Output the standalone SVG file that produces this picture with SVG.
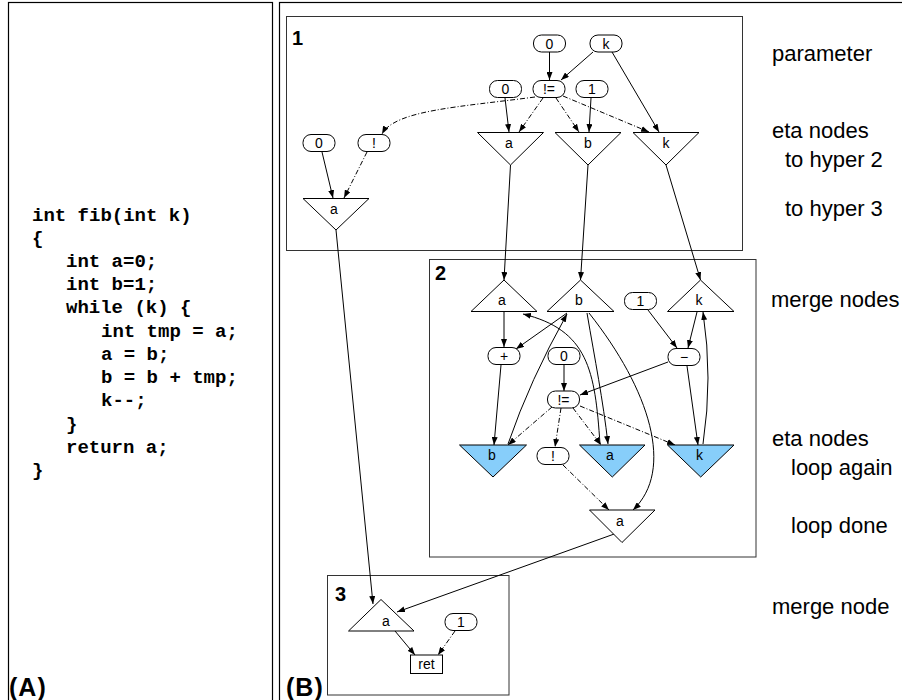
<svg xmlns="http://www.w3.org/2000/svg" width="902" height="700" viewBox="0 0 902 700">
<defs>
<marker id="arr" markerUnits="userSpaceOnUse" markerWidth="8" markerHeight="6" refX="8" refY="3" orient="auto"><path d="M0,0 L8,3 L0,6 z" fill="#000"/></marker>
<style>
.frame{fill:none;stroke:#000;stroke-width:1.2}
.box{fill:none;stroke:#333;stroke-width:1}
.num{font-family:"Liberation Sans",Arial,sans-serif;font-weight:bold;font-size:20px;fill:#000}
.big{font-family:"Liberation Sans",Arial,sans-serif;font-weight:bold;font-size:25px;letter-spacing:1px;fill:#000}
.code{font-family:"Liberation Mono","Courier New",monospace;font-weight:bold;font-size:19px;fill:#000}
.side{font-family:"Liberation Sans",Arial,sans-serif;font-size:22px;fill:#000}
.lbl{font-family:"Liberation Sans",Arial,sans-serif;font-size:14px;fill:#000;text-anchor:middle}
.ov{fill:#fff;stroke:#000;stroke-width:1}
.tri{fill:#fff;stroke:#000;stroke-width:1}
.blue{fill:#87cefa;stroke:#000;stroke-width:1}
.e{fill:none;stroke:#000;stroke-width:1;marker-end:url(#arr)}
.d{stroke-dasharray:5,2,1,2}
</style>
</defs>
<rect width="902" height="700" fill="#fff"/>
<g id="panels">
<rect class="frame" x="8.5" y="2.5" width="264" height="720"/>
<rect class="frame" x="279.5" y="2.5" width="640" height="720"/>
<text class="big" x="9" y="696">(A)</text>
<text class="big" x="286" y="696">(B)</text>
</g>
<g id="code">
<text class="code" x="32" y="221">int fib(int k)</text>
<text class="code" x="32" y="244">{</text>
<text class="code" x="66" y="267">int a=0;</text>
<text class="code" x="66" y="290">int b=1;</text>
<text class="code" x="66" y="313">while (k) {</text>
<text class="code" x="101" y="337">int tmp = a;</text>
<text class="code" x="101" y="360">a = b;</text>
<text class="code" x="101" y="383">b = b + tmp;</text>
<text class="code" x="101" y="406">k--;</text>
<text class="code" x="66" y="430">}</text>
<text class="code" x="66" y="453">return a;</text>
<text class="code" x="32" y="476">}</text>
</g>
<g id="side-labels">
<text class="side" x="772" y="61">parameter</text>
<text class="side" x="772" y="138">eta nodes</text>
<text class="side" x="785" y="167">to hyper 2</text>
<text class="side" x="785" y="216">to hyper 3</text>
<text class="side" x="771" y="307">merge nodes</text>
<text class="side" x="772" y="446">eta nodes</text>
<text class="side" x="791" y="475">loop again</text>
<text class="side" x="791" y="533">loop done</text>
<text class="side" x="772" y="614">merge node</text>
</g>
<g id="hyper1">
<rect class="box" x="286.5" y="16.5" width="456" height="234"/>
<text class="num" x="292" y="45">1</text>
</g>
<g id="hyper2">
<rect class="box" x="429.5" y="259.5" width="326.5" height="297.5"/>
<text class="num" x="435" y="280">2</text>
</g>
<g id="hyper3">
<rect class="box" x="327.5" y="575.5" width="181.5" height="119.5"/>
<text class="num" x="335" y="601">3</text>
</g>
<g id="connectors">
<path class="e" d="M549.5,52 L549.5,80"/>
<path class="e" d="M593,52 L561,80"/>
<path class="e" d="M612,52 L659,132"/>
<path class="e" d="M505,98 L509,132"/>
<path class="e d" d="M543,98 L519,132"/>
<path class="e d" d="M556,98 L579,132"/>
<path class="e" d="M591,98 L589,132"/>
<path class="e d" d="M563,96 L649,132"/>
<path class="e d" d="M535,97 C460,107 395,110 382,134"/>
<path class="e" d="M322,152 L333,198"/>
<path class="e d" d="M367,152 L344,198"/>
<path class="e" d="M510.5,165 L504,280"/>
<path class="e" d="M588,165 L580.5,280"/>
<path class="e" d="M666,165 L700.5,280"/>
<path class="e" d="M336,230 L373,604"/>
<path class="e" d="M617,533 L397,612"/>
<path class="e" d="M504,312 L504,347"/>
<path class="e" d="M567,313 L516,349"/>
<path class="e" d="M508,444 Q530,380 567,314"/>
<path class="e" d="M501,365 L494,445"/>
<path class="e" d="M600,444 C595,370 588,330 523,314"/>
<path class="e" d="M587,313 C595,360 603,400 608,444"/>
<path class="e" d="M589,313 C650,390 675,470 633,510"/>
<path class="e" d="M648,310 L677,348"/>
<path class="e" d="M697,312 L688,348"/>
<path class="e" d="M668,362 L580,395"/>
<path class="e" d="M564,365 L564,391"/>
<path class="e" d="M687,366 L698,445"/>
<path class="e" d="M703,444 Q713,378 703,312"/>
<path class="e d" d="M552,407 L508,445"/>
<path class="e d" d="M561,408 L555,447"/>
<path class="e d" d="M573,408 L601,445"/>
<path class="e d" d="M580,406 L675,445"/>
<path class="e d" d="M563,465 L609,510"/>
<path class="e" d="M395,631 L415,655"/>
<path class="e d" d="M455,631 L438,655"/>
</g>
<g id="n1-const0"><rect class="ov" x="533.5" y="35" width="32" height="17" rx="8"/><text class="lbl" x="549.5" y="48.5">0</text></g>
<g id="n1-param-k"><rect class="ov" x="590" y="35" width="32" height="17" rx="8"/><text class="lbl" x="606" y="48.5">k</text></g>
<g id="n1-neq"><rect class="ov" x="533" y="80.5" width="32" height="17" rx="8"/><text class="lbl" x="549" y="94">!=</text></g>
<g id="n1-const0b"><rect class="ov" x="489.5" y="80.5" width="32" height="17" rx="8"/><text class="lbl" x="505.5" y="94">0</text></g>
<g id="n1-const1"><rect class="ov" x="576" y="80.5" width="32" height="17" rx="8"/><text class="lbl" x="592" y="94">1</text></g>
<g id="n1-const0c"><rect class="ov" x="303" y="134.5" width="32" height="17" rx="8"/><text class="lbl" x="319" y="148">0</text></g>
<g id="n1-not"><rect class="ov" x="358" y="134.5" width="32" height="17" rx="8"/><text class="lbl" x="374" y="148">!</text></g>
<g id="n1-eta-a"><polygon class="tri" points="477.5,132.5 543.5,132.5 510.5,165"/><text class="lbl" x="509" y="148">a</text></g>
<g id="n1-eta-b"><polygon class="tri" points="555,132.5 621,132.5 588,165"/><text class="lbl" x="588" y="148">b</text></g>
<g id="n1-eta-k"><polygon class="tri" points="633,132.5 699,132.5 666,165"/><text class="lbl" x="666" y="148">k</text></g>
<g id="n1-eta-a-exit"><polygon class="tri" points="303,198.5 369,198.5 336,230"/><text class="lbl" x="334" y="214">a</text></g>
<g id="n2-merge-a"><polygon class="tri" points="471,311.5 537,311.5 504,280"/><text class="lbl" x="502" y="305">a</text></g>
<g id="n2-merge-b"><polygon class="tri" points="547,311.5 614,311.5 580.5,280"/><text class="lbl" x="579" y="305">b</text></g>
<g id="n2-const1"><rect class="ov" x="624.5" y="292.5" width="32" height="17" rx="8"/><text class="lbl" x="640.5" y="306">1</text></g>
<g id="n2-merge-k"><polygon class="tri" points="667.5,311.5 734,311.5 700.5,280"/><text class="lbl" x="699" y="305">k</text></g>
<g id="n2-plus"><rect class="ov" x="488" y="347.5" width="32" height="17" rx="8"/><text class="lbl" x="504" y="361">+</text></g>
<g id="n2-const0"><rect class="ov" x="548" y="347.5" width="32" height="17" rx="8"/><text class="lbl" x="564" y="361">0</text></g>
<g id="n2-minus"><rect class="ov" x="668" y="348.5" width="32" height="17" rx="8"/><text class="lbl" x="684" y="362">−</text></g>
<g id="n2-neq"><rect class="ov" x="547.5" y="391" width="32" height="17" rx="8"/><text class="lbl" x="563.5" y="404.5">!=</text></g>
<g id="n2-eta-b"><polygon class="blue" points="459.5,445 526.5,445 493,477"/><text class="lbl" x="492" y="460">b</text></g>
<g id="n2-not"><rect class="ov" x="537" y="447.5" width="32" height="17" rx="8"/><text class="lbl" x="553" y="461">!</text></g>
<g id="n2-eta-a"><polygon class="blue" points="579.5,445 645,445 612.3,477"/><text class="lbl" x="610" y="460">a</text></g>
<g id="n2-eta-k"><polygon class="blue" points="667.5,445 734,445 700.7,477"/><text class="lbl" x="699.5" y="460">k</text></g>
<g id="n2-eta-a-done"><polygon class="tri" points="589.5,510 655,510 622,542.5"/><text class="lbl" x="620" y="526">a</text></g>
<g id="n3-merge-a"><polygon class="tri" points="348.5,631 414,631 381,599.5"/><text class="lbl" x="386" y="626">a</text></g>
<g id="n3-const1"><rect class="ov" x="445" y="613.5" width="32" height="17" rx="8"/><text class="lbl" x="461" y="627">1</text></g>
<g id="n3-ret"><rect class="ov" x="410.5" y="655" width="32" height="18.5" rx="0"/><text class="lbl" x="426.5" y="669">ret</text></g>
</svg>
